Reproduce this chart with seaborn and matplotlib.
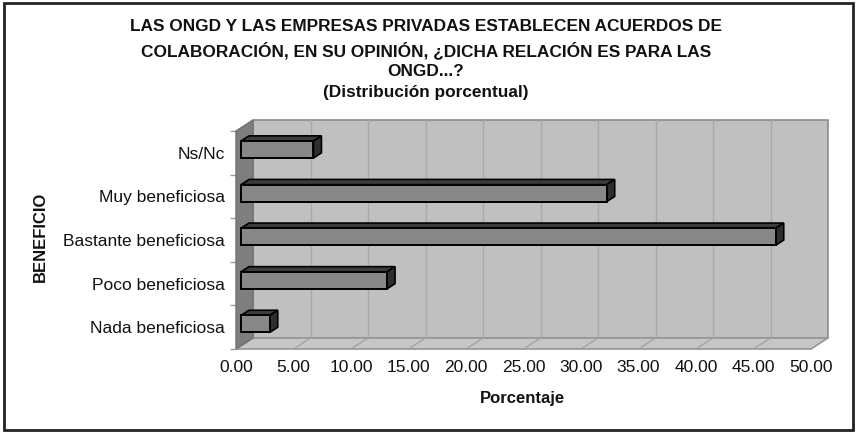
import numpy as np
import pandas as pd
import matplotlib
matplotlib.use("Agg")
import matplotlib.pyplot as plt
import seaborn as sns
from matplotlib.patches import Polygon, Rectangle

# ---- data ----
categories = ["Ns/Nc", "Muy beneficiosa", "Bastante beneficiosa",
              "Poco beneficiosa", "Nada beneficiosa"]
values = [6.3, 31.8, 46.5, 12.7, 2.5]
xticks = [0, 5, 10, 15, 20, 25, 30, 35, 40, 45, 50]
xticklabels = ["%.2f" % v for v in xticks]
title = ("LAS ONGD Y LAS EMPRESAS PRIVADAS ESTABLECEN ACUERDOS DE\n"
         "COLABORACIÓN, EN SU OPINIÓN, ¿DICHA RELACIÓN ES PARA LAS\n"
         "ONGD...?\n(Distribución porcentual)")
xlabel = "Porcentaje"
ylabel = "BENEFICIO"

# ---- style ----
W, H, DPI = 856, 433, 100
sns.set_theme(style="white")
plt.rcParams['font.family'] = ['Liberation Sans', 'DejaVu Sans']

fig = plt.figure(figsize=(W / DPI, H / DPI), dpi=DPI)
fig.patch.set_facecolor("white")
ax = fig.add_axes([236 / W, 1 - 349 / H, 575 / W, 218 / H])

df = pd.DataFrame({"Beneficio": categories, "Porcentaje": values})
sns.barplot(data=df, y="Beneficio", x="Porcentaje", order=categories,
            color="#878787", saturation=1, width=0.39, edgecolor="black",
            linewidth=1.4, ax=ax, zorder=6)
ax.set_xlim(xticks[0], xticks[-1])
ax.set_ylim(len(categories) - 0.5, -0.5)

pxx = ax.bbox.width / (xticks[-1] - xticks[0])
pxy = ax.bbox.height / len(categories)
SLOPE = 0.65
D_BACK = 17
D_BAR0, D_BAR1 = 5, 13


def P(x, y, d):
    return (x + d / pxx, y - SLOPE * d / pxy)


ymin, ymax = -0.5, len(categories) - 0.5
x0, x1 = xticks[0], xticks[-1]

# back wall
wall = Polygon([P(x0, ymin, D_BACK), P(x1, ymin, D_BACK), P(x1, ymax, D_BACK),
                P(x0, ymax, D_BACK)], closed=True, facecolor="#c0c0c0",
               edgecolor="#8c8c8c", lw=1.2, zorder=1, clip_on=False)
ax.add_patch(wall)
for xv in xticks[1:-1]:
    a, b = P(xv, ymin, D_BACK), P(xv, ymax, D_BACK)
    ax.plot([a[0], b[0]], [a[1], b[1]], color="#a9a9a9", lw=1.0,
            zorder=1.5, clip_on=False)

# floor
floor = Polygon([P(x0, ymax, 0), P(x1, ymax, 0), P(x1, ymax, D_BACK),
                 P(x0, ymax, D_BACK)], closed=True, facecolor="#c6c6c6",
                edgecolor="#959595", lw=1.2, zorder=2, clip_on=False)
ax.add_patch(floor)
for xv in xticks[1:-1]:
    a, b = P(xv, ymax, 0), P(xv, ymax, D_BACK)
    ax.plot([a[0], b[0]], [a[1], b[1]], color="#a0a0a0", lw=0.9,
            zorder=2.5, clip_on=False)

# side wall
side = Polygon([P(x0, ymin, 0), P(x0, ymax, 0), P(x0, ymax, D_BACK),
                P(x0, ymin, D_BACK)], closed=True, facecolor="#7e7e7e",
               edgecolor="#707070", lw=1.0, zorder=3, clip_on=False)
ax.add_patch(side)

# bars: move front faces to depth and add top / end faces
for patch in ax.patches:
    if not isinstance(patch, Rectangle):
        continue
    bx, by, bw, bh = patch.get_x(), patch.get_y(), patch.get_width(), patch.get_height()
    fx, fy = P(bx, by, D_BAR0)
    patch.set_x(fx)
    patch.set_y(fy)
    patch.set_clip_on(False)
    top = Polygon([P(bx, by, D_BAR0), P(bx + bw, by, D_BAR0),
                   P(bx + bw, by, D_BAR1), P(bx, by, D_BAR1)], closed=True,
                  facecolor="#3c3c3c", edgecolor="black", lw=1.2, zorder=5,
                  clip_on=False)
    end = Polygon([P(bx + bw, by, D_BAR0), P(bx + bw, by + bh, D_BAR0),
                   P(bx + bw, by + bh, D_BAR1), P(bx + bw, by, D_BAR1)],
                  closed=True, facecolor="#2e2e2e", edgecolor="black", lw=1.2,
                  zorder=5, clip_on=False)
    ax.add_patch(top)
    ax.add_patch(end)

# axes decoration
for s in ax.spines.values():
    s.set_visible(False)
ax.set_xticks(xticks)
ax.set_xticklabels(xticklabels, fontsize=12.5, color="#111111")
ax.tick_params(axis="x", length=0, pad=8)
ax.set_yticks(range(len(categories)))
ax.set_yticklabels(categories, fontsize=12.5, color="#111111")
ax.set_yticks(np.arange(-0.5, len(categories), 1), minor=True)
ax.tick_params(axis="y", which="major", length=0, pad=8)
ax.tick_params(axis="y", which="minor", length=4, color="#9a9a9a", width=1,
               left=True)
ax.set_xlabel(xlabel, fontsize=12, fontweight="bold", color="#111111")
ax.set_ylabel(ylabel, fontsize=12, fontweight="bold", color="#111111")
ax.xaxis.set_label_coords((522 - 236) / 575, (349 - 391) / 218)
ax.yaxis.set_label_coords((48 - 236) / 575, (349 - 237) / 218)

fig.text(426 / W, 1 - 19 / H, title, ha="center", va="top", fontsize=12.4,
         fontweight="bold", color="#111111", linespacing=1.47)

fig.patches.append(Rectangle((4 / W, 3 / H), 849 / W, 427 / H, fill=False,
                             edgecolor="#222222", lw=2,
                             transform=fig.transFigure, figure=fig))

fig.savefig("out.png", dpi=DPI, facecolor="white")
